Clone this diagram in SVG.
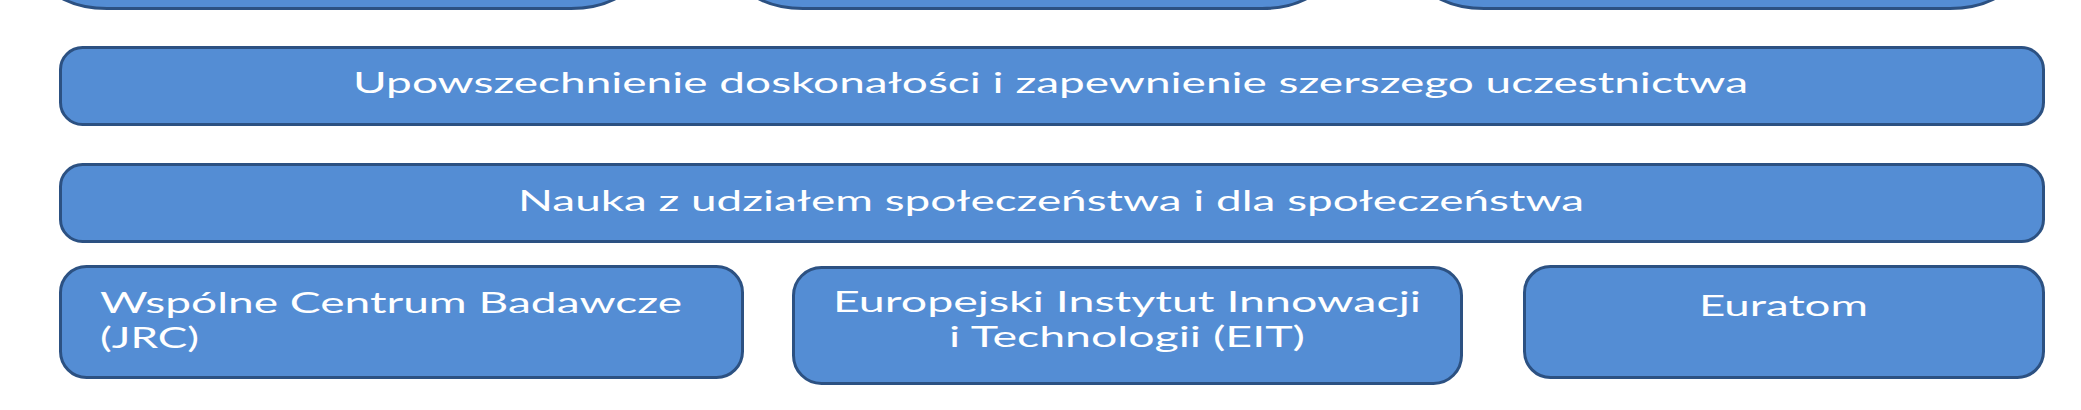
<svg xmlns="http://www.w3.org/2000/svg" width="2081" height="410" viewBox="0 0 2081 410">
<style>
.box{fill:#548DD4;stroke:#2C5182;stroke-width:3}
.t{font-family:Lato,"Open Sans","Liberation Sans",sans-serif;font-size:29px;fill:#FFFFFF}
</style>
<rect x="0" y="0" width="2081" height="410" fill="#FFFFFF"/>
<g id="top1"><rect class="box" x="47" y="-100" width="584" height="108.5" rx="60" ry="30"/></g>
<g id="top2"><rect class="box" x="743" y="-100" width="579" height="108.5" rx="60" ry="30"/></g>
<g id="top3"><rect class="box" x="1424" y="-100" width="586" height="108.5" rx="60" ry="30"/></g>
<g id="upowszechnienie">
<rect class="box" x="60.5" y="47.5" width="1983" height="77" rx="22"/>
<text class="t" x="353" y="93" textLength="1395" lengthAdjust="spacingAndGlyphs">Upowszechnienie doskonałości i zapewnienie szerszego uczestnictwa</text>
</g>
<g id="nauka">
<rect class="box" x="60.5" y="164.5" width="1983" height="77" rx="22"/>
<text class="t" x="518" y="211" textLength="1066" lengthAdjust="spacingAndGlyphs">Nauka z udziałem społeczeństwa i dla społeczeństwa</text>
</g>
<g id="jrc">
<rect class="box" x="60.5" y="266.5" width="682" height="111" rx="26"/>
<text class="t" x="100" y="313" textLength="582" lengthAdjust="spacingAndGlyphs">Wspólne Centrum Badawcze</text>
<text class="t" x="100" y="348" textLength="99" lengthAdjust="spacingAndGlyphs">(JRC)</text>
</g>
<g id="eit">
<rect class="box" x="793.5" y="267.5" width="668" height="116" rx="28"/>
<text class="t" x="833" y="312" textLength="588" lengthAdjust="spacingAndGlyphs">Europejski Instytut Innowacji</text>
<text class="t" x="949" y="347" textLength="356" lengthAdjust="spacingAndGlyphs">i Technologii (EIT)</text>
</g>
<g id="euratom">
<rect class="box" x="1524.5" y="266.5" width="519" height="111" rx="26"/>
<text class="t" x="1699" y="316" textLength="169" lengthAdjust="spacingAndGlyphs">Euratom</text>
</g>
<g id="connectors"></g>
</svg>
